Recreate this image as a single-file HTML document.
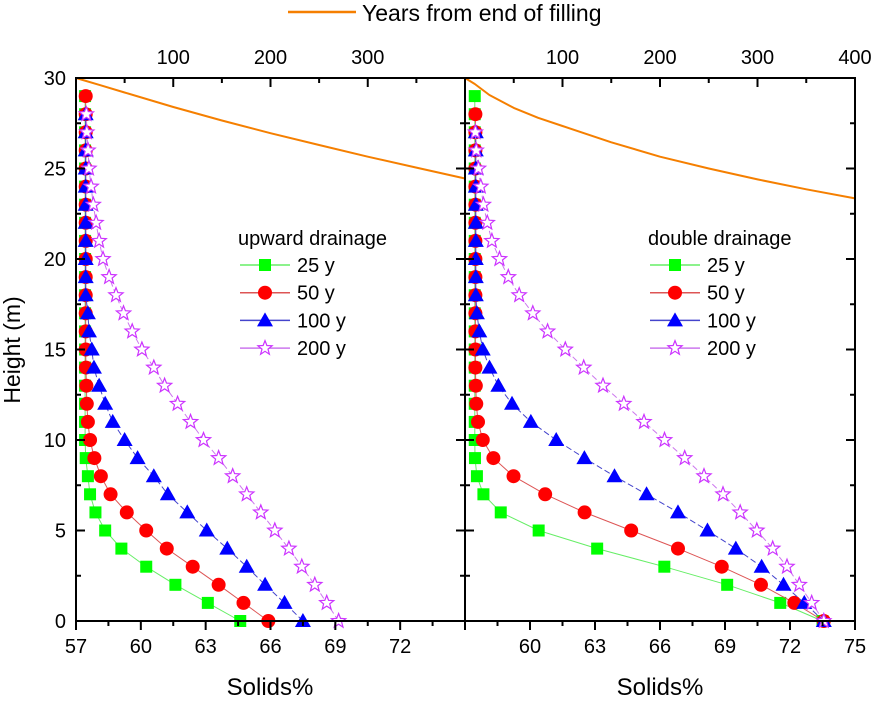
<!DOCTYPE html>
<html><head><meta charset="utf-8"><style>
html,body{margin:0;padding:0;background:#fff;}
svg text{font-family:"Liberation Sans",Arial,sans-serif;fill:#000;}
</style></head><body>
<svg id="chart" width="873" height="700" viewBox="0 0 873 700" xmlns="http://www.w3.org/2000/svg">
<g>
<line x1="288" y1="12" x2="356" y2="12" stroke="#f57f00" stroke-width="2.5"/>
<text x="362" y="21" font-size="23">Years from end of filling</text>
</g>
<text transform="translate(20,350) rotate(-90)" font-size="23" text-anchor="middle">Height (m)</text>
<text x="270" y="695" font-size="24" text-anchor="middle">Solids%</text>
<text x="660" y="695" font-size="24" text-anchor="middle">Solids%</text>
<g id="plot"></g>
</svg>
<script>
const heights=[0,1,2,3,4,5,6,7,8,9,10,11,12,13,14,15,16,17,18,19,20,21,22,23,24,25,26,27,28,29];
const seriesLabels=["25   y","50   y","100 y","200 y"];
const leftGreen=[64.6,63.1,61.6,60.25,59.1,58.35,57.9,57.65,57.55,57.45,57.42,57.42,57.42,57.42,57.42,57.42,57.42,57.42,57.42,57.42,57.42,57.42,57.42,57.42,57.42,57.42,57.42,57.42,57.42,57.42];
const leftRed=[65.9,64.75,63.6,62.4,61.2,60.25,59.35,58.6,58.15,57.85,57.65,57.55,57.5,57.48,57.46,57.45,57.45,57.45,57.45,57.45,57.45,57.45,57.45,57.45,57.45,57.45,57.45,57.45,57.45,57.45];
const leftBlue=[67.5,66.65,65.75,64.9,64.0,63.05,62.15,61.25,60.6,59.85,59.25,58.7,58.35,58.07,57.83,57.73,57.6,57.55,57.45,57.45,57.45,57.45,57.45,57.45,57.45,57.45,57.45,57.45,57.45];
const leftStar=[69.15,68.6,68.05,67.45,66.85,66.2,65.55,64.9,64.25,63.6,62.9,62.3,61.7,61.1,60.6,60.05,59.6,59.2,58.85,58.53,58.25,58.07,57.93,57.8,57.7,57.6,57.56,57.5,57.48];
const rightGreen=[73.5,71.55,69.1,66.2,63.1,60.4,58.65,57.85,57.55,57.46,57.45,57.45,57.45,57.45,57.45,57.45,57.45,57.45,57.45,57.45,57.45,57.45,57.45,57.45,57.45,57.45,57.45,57.45,57.45,57.45];
const rightRed=[73.56,72.2,70.66,68.85,66.83,64.67,62.52,60.7,59.24,58.31,57.82,57.6,57.52,57.5,57.48,57.48,57.48,57.48,57.48,57.48,57.48,57.48,57.48,57.48,57.48,57.48,57.48,57.48,57.48];
const rightBlue=[73.56,72.66,71.7,70.69,69.5,68.19,66.83,65.38,63.9,62.51,61.21,60.04,59.17,58.54,58.13,57.82,57.66,57.55,57.5,57.5,57.5,57.5,57.5,57.5,57.5,57.5,57.5,57.5];
const rightStar=[73.56,73.0,72.43,71.86,71.2,70.47,69.7,68.91,68.03,67.14,66.21,65.26,64.33,63.37,62.48,61.63,60.81,60.13,59.5,59.0,58.59,58.24,58.03,57.85,57.73,57.62,57.52,57.48];
const leftYears=[0,25,50,100,150,200,250,300,350,400];
const leftSurface=[30,29.6,29.2,28.4,27.65,26.95,26.3,25.65,25.05,24.45];
const rightYears=[0,10,25,50,75,100,150,200,250,300,350,400];
const rightSurface=[30,29.67,29.06,28.35,27.8,27.35,26.45,25.65,25.0,24.4,23.85,23.35];
const xTicksLeft=[57,60,63,66,69,72];
const xTicksRight=[60,63,66,69,72,75];
const yTicks=[0,5,10,15,20,25,30];
const topTicksLeft=[100,200,300];
const topTicksRight=[100,200,300,400];

const NS="http://www.w3.org/2000/svg";
const plot=document.getElementById('plot');
const Y0=621,Y1=78;
function yS(h){return Y0-(h/30)*(Y0-Y1);}
function mk(tag,attrs,parent){const e=document.createElementNS(NS,tag);for(const k in attrs)e.setAttribute(k,attrs[k]);(parent||plot).appendChild(e);return e;}
const colors=["#00ff00","#ff0000","#0000ff","#cc33ff"];
const lineCols=["#66ee66","#dd5555","#4444cc","#cc77ee"];
function marker(g,type,x,y){
  let e;
  if(type===0){e=mk('rect',{x:x-6,y:y-6,width:12,height:12,fill:colors[0]},g);}
  else if(type===1){e=mk('circle',{cx:x,cy:y,r:7,fill:colors[1]},g);}
  else if(type===2){e=mk('polygon',{points:`${x},${y-8} ${x+8},${y+6} ${x-8},${y+6}`,fill:colors[2]},g);}
  else{let p=[];for(let i=0;i<10;i++){const r=i%2?3.2:7.5;const a=-Math.PI/2+i*Math.PI/5;p.push((x+r*Math.cos(a)).toFixed(1)+','+(y+r*Math.sin(a)).toFixed(1));}
    e=mk('polygon',{points:p.join(' '),fill:'#fff',stroke:colors[3],'stroke-width':1.2},g);}
  return e;
}
function panel(name,xL,xR,series,years,surface,xTicks,topTicks,legendTitle,lx){
  const xS=v=>xL+(v-57)/18*(xR-xL);
  const tS=t=>xL+t/400*(xR-xL);
  const g=mk('g',{});
  
  
  series.forEach((arr,si)=>{
    const sg=mk('g',{},g);
    
    
    const pts=arr.map((v,i)=>xS(v).toFixed(1)+','+yS(heights[i]).toFixed(1)).join(' ');
    mk('polyline',{points:pts,fill:'none',stroke:lineCols[si],'stroke-width':1,'stroke-dasharray':si>=2?'6,3':''},sg);
    arr.forEach((v,i)=>{const m=marker(sg,si,xS(v),yS(heights[i]));
      
      });
  });
  const sp=years.map((t,i)=>tS(t).toFixed(1)+','+yS(surface[i]).toFixed(1)).join(' ');
  const c=mk('polyline',{points:sp,fill:'none',stroke:'#f57f00','stroke-width':2,'stroke-linejoin':'round'},g);
  
  
  mk('rect',{x:xL,y:Y1,width:xR-xL,height:Y0-Y1,fill:'none',stroke:'#000','stroke-width':2},g);
  for(let v=57;v<=75.01;v+=1.5){const x=xS(v);const maj=Math.abs(v/3-Math.round(v/3))<0.01;
    mk('line',{x1:x,y1:Y0,x2:x,y2:Y0+(maj?9:5),stroke:'#000','stroke-width':2},g);}
  xTicks.forEach(v=>{const t=mk('text',{x:xS(v),y:Y0+32,'font-size':20,'text-anchor':'middle'},g);t.textContent=v;
    
    });
  for(let t=50;t<400;t+=50){const x=tS(t);mk('line',{x1:x,y1:Y1,x2:x,y2:Y1+(t%100===0?9:5),stroke:'#000','stroke-width':2},g);}
  topTicks.forEach(v=>{const t=mk('text',{x:tS(v),y:Y1-14,'font-size':20,'text-anchor':'middle'},g);t.textContent=v;
    
    });
  for(let h=0;h<=30;h+=2.5){const y=yS(h);const L=(h%5===0)?9:5;
    mk('line',{x1:xL,y1:y,x2:xL+L,y2:y,stroke:'#000','stroke-width':2},g);
    mk('line',{x1:xR,y1:y,x2:xR-L,y2:y,stroke:'#000','stroke-width':2},g);}
  const lg=mk('g',{},g);
  
  
  const tt=mk('text',{x:lx-2,y:245,'font-size':20},lg);tt.textContent=legendTitle;
  seriesLabels.forEach((s,i)=>{const y=265+i*27.7;
    mk('line',{x1:lx,y1:y,x2:lx+50,y2:y,stroke:lineCols[i],'stroke-width':1.5},lg);
    marker(lg,i,lx+25,y);
    const t=mk('text',{x:lx+57,y:y+7,'font-size':20},lg);t.textContent=s;
    
    });
}
panel('upward',76,465,[leftGreen,leftRed,leftBlue,leftStar],leftYears,leftSurface,xTicksLeft,topTicksLeft,'upward drainage',240);
panel('double',465,855,[rightGreen,rightRed,rightBlue,rightStar],rightYears,rightSurface,xTicksRight,topTicksRight,'double drainage',650);
yTicks.forEach(h=>{const t=mk('text',{x:66,y:yS(h)+7,'font-size':20,'text-anchor':'end'});t.textContent=h;
  
  });
</script>
</body></html>
